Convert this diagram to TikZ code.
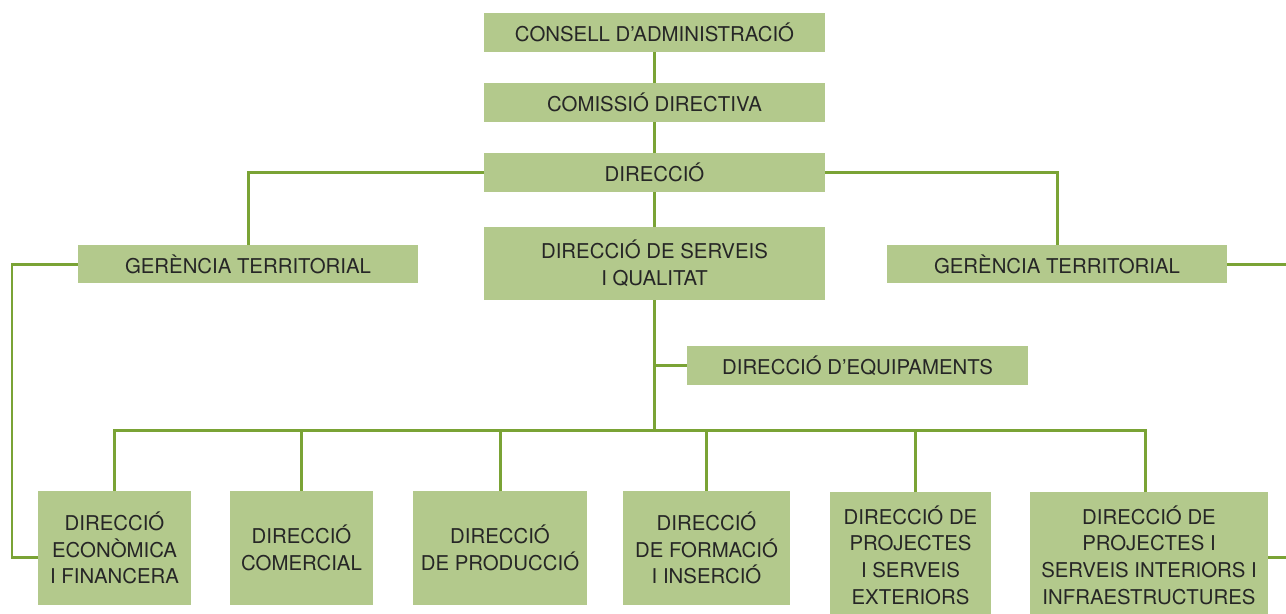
\documentclass[tikz,border=0pt]{standalone}
\usepackage{fontspec}
\setmainfont{TeX Gyre Heros}
\definecolor{boxgreen}{HTML}{B3C98C}
\definecolor{linegreen}{HTML}{7AA335}
\tikzset{
  orgbox/.style={fill=boxgreen, inner sep=0pt, align=center, font=\fontsize{11.6pt}{15.2pt}\selectfont, text=black!85},
  orgline/.style={draw=linegreen, line width=0.06cm}
}

\begin{document}
\begin{tikzpicture}[x=0.02cm, y=-0.02cm]
\useasboundingbox (0,0) rectangle (1286,613);
\node[orgbox, minimum width=6.82cm, minimum height=0.78cm] (consell) at (654.5,32.5) {CONSELL D’ADMINISTRACIÓ};
\node[orgbox, minimum width=6.82cm, minimum height=0.78cm] (comissio) at (654.5,102.5) {COMISSIÓ DIRECTIVA};
\node[orgbox, minimum width=6.82cm, minimum height=0.78cm] (direccio) at (654.5,172.5) {DIRECCIÓ};
\node[orgbox, minimum width=6.82cm, minimum height=1.46cm] (serveis) at (654.5,263.5) {DIRECCIÓ DE SERVEIS\\I QUALITAT};
\node[orgbox, minimum width=6.8cm, minimum height=0.76cm] (gerL) at (248,264) {GERÈNCIA TERRITORIAL};
\node[orgbox, minimum width=6.8cm, minimum height=0.76cm] (gerR) at (1057,264) {GERÈNCIA TERRITORIAL};
\node[orgbox, minimum width=6.82cm, minimum height=0.78cm] (equip) at (857.5,365.5) {DIRECCIÓ D’EQUIPAMENTS};
\node[orgbox, minimum width=3.06cm, minimum height=2.28cm] (econ) at (114.5,548) {DIRECCIÓ\\ECONÒMICA\\I FINANCERA};
\node[orgbox, minimum width=2.86cm, minimum height=2.28cm] (comer) at (301.5,548) {DIRECCIÓ\\COMERCIAL};
\node[orgbox, minimum width=3.48cm, minimum height=2.28cm] (produ) at (500,548) {DIRECCIÓ\\DE PRODUCCIÓ};
\node[orgbox, minimum width=3.34cm, minimum height=2.28cm] (forma) at (706.5,548) {DIRECCIÓ\\DE FORMACIÓ\\I INSERCIÓ};
\node[orgbox, minimum width=3.22cm, minimum height=2.52cm] (exter) at (910.5,555) {DIRECCIÓ DE\\PROJECTES\\I SERVEIS\\EXTERIORS};
\node[orgbox, minimum width=4.76cm, minimum height=2.52cm] (inter) at (1149,555) {DIRECCIÓ DE\\PROJECTES I\\SERVEIS INTERIORS I\\INFRAESTRUCTURES};
\coordinate (bus) at (654.5,430);
\coordinate (left) at (12,557);
\coordinate (rightA) at (1287,264);
\coordinate (rightB) at (1287,557);
\draw[orgline] (consell) -- (comissio);
\draw[orgline] (comissio) -- (direccio);
\draw[orgline] (direccio) -- (serveis);
\draw[orgline] (direccio.west) -| (gerL.north);
\draw[orgline] (direccio.east) -| (gerR.north);
\draw[orgline] (gerL.west) -| (left) -- (left -| econ.west);
\draw[orgline] (gerR.east) -- (rightA);
\draw[orgline] (rightB -| inter.east) -- (rightB);
\draw[orgline] (serveis.south) -- (bus);
\draw[orgline] (equip.west) -- (equip.west -| serveis.south);
\draw[orgline] (econ.north) |- (bus) -| ([xshift=-0.08cm]inter.north);
\draw[orgline] (comer.north) -- (comer.north |- bus);
\draw[orgline] (produ.north) -- (produ.north |- bus);
\draw[orgline] (forma.north) -- (forma.north |- bus);
\draw[orgline] ([xshift=0.09cm]exter.north) -- ([xshift=0.09cm]exter.north |- bus);
\end{tikzpicture}
\end{document}
